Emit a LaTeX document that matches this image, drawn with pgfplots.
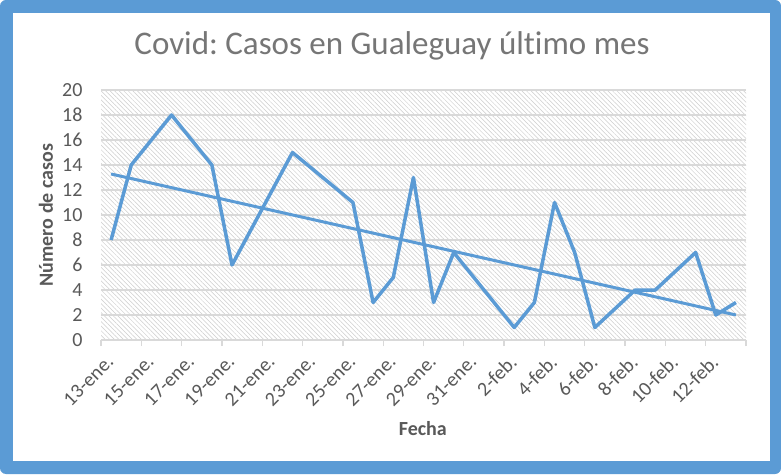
\documentclass[border=0pt]{standalone}
\usepackage{fontspec}
\setmainfont{Carlito}[Ligatures=NoCommon]
\usepackage{pgfplots}
\pgfplotsset{compat=1.18}
\usetikzlibrary{patterns.meta}

\definecolor{excelblue}{HTML}{5B9BD5}
\definecolor{gridgray}{HTML}{D9D9D9}
\definecolor{hatchgray}{HTML}{CDCDCD}
\definecolor{labelgray}{HTML}{595959}
\definecolor{titlegray}{HTML}{767676}

% day index: 0 = 13-ene. ... 31 = 13-feb.
\pgfplotstableread{
day casos
0  8
1  14
3  18
5  14
6  6
9  15
12 11
13 3
14 5
15 13
16 3
17 7
20 1
21 3
22 11
23 7
24 1
26 4
27 4
29 7
30 2
31 3
}\casos

\begin{document}
\frenchspacing
\begin{tikzpicture}
% chart frame
\fill[excelblue, rounded corners=6pt] (0pt,0pt) rectangle (781pt,474pt);
\fill[white] (13pt,13pt) rectangle (770pt,461pt);

\begin{axis}[
  at={(101pt,134pt)}, anchor=south west,
  scale only axis, width=645pt, height=250pt,
  xmin=-0.5, xmax=31.5, ymin=0, ymax=20,
  axis x line*=bottom, axis y line*=left,
  x axis line style={draw=gridgray, line width=1.3pt, -},
  y axis line style={draw=none},
  axis background/.style={
    preaction={fill=white},
    pattern={Lines[angle=-45, distance=3.2pt, line width=0.5pt]},
    pattern color=hatchgray},
  ytick={0,2,...,20},
  ymajorgrids,
  grid style={draw=gridgray, line width=1.3pt},
  ytick style={draw=none},
  xtick={0,2,...,30},
  xticklabels={13-ene.,15-ene.,17-ene.,19-ene.,21-ene.,23-ene.,25-ene.,27-ene.,29-ene.,31-ene.,2-feb.,4-feb.,6-feb.,8-feb.,10-feb.,12-feb.},
  xtick style={draw=none},
  extra x ticks={-0.5,1.5,...,31.5},
  extra x tick labels={},
  extra x tick style={xtick style={draw=gridgray, line width=1.3pt},
    major tick length=6pt, tick align=outside},
  /pgf/number format/assume math mode=true,
  ticklabel style={font=\fontsize{20}{22}\selectfont, text=labelgray},
  yticklabel shift=15pt,
  x tick label style={rotate=45, anchor=east, inner sep=1pt},
  xticklabel shift=18pt,
  xlabel={Fecha},
  ylabel={Número de casos},
  label style={font=\bfseries\fontsize{20}{22}\selectfont, text=labelgray},
  xlabel style={at={(axis description cs:0.499,-0.354)}, anchor=center},
  ylabel style={at={(axis description cs:-0.0853,0.5)}, anchor=center, rotate=0},
  clip=false,
]
\addplot[excelblue, line width=3.5pt, line join=round] table[x=day, y=casos] {\casos};
% linear trend line, end points
\addplot[excelblue, line width=3pt] coordinates {(0,13.28) (31,2.0)};
\end{axis}

\node[anchor=base, text=titlegray, font=\fontsize{33}{36}\selectfont]
  at (392pt,419pt) {Covid: Casos en Gualeguay último mes};
\end{tikzpicture}
\end{document}
